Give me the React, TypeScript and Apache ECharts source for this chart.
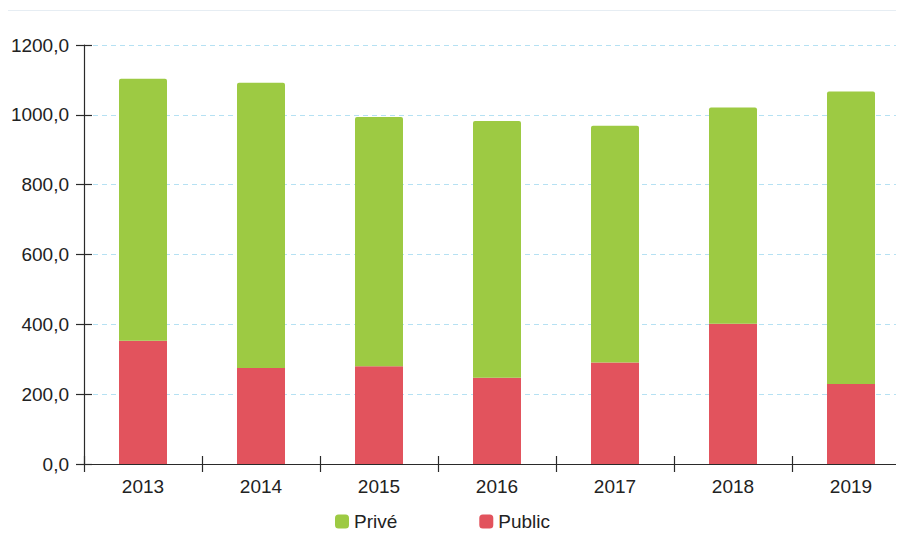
import React, { useEffect, useRef } from "react";
import * as echarts from "echarts";

const years = ["2013", "2014", "2015", "2016", "2017", "2018", "2019"];
const publicValues = [353, 275, 280, 247, 291, 402, 229];
const priveValues = [750, 817, 714, 735, 678, 619, 838];
const seriesNames = ["Privé", "Public"];

const FONT = '"Liberation Sans", Arial, sans-serif';

export default function App() {
  const ref = useRef<HTMLDivElement>(null);
  useEffect(() => {
    if (!ref.current) return;
    const chart = echarts.init(ref.current, undefined, { renderer: "svg" });
    const fmt = (v: number) => v.toFixed(1).replace(".", ",");
    chart.setOption({
      animation: false,
      backgroundColor: "#ffffff",
      textStyle: { fontFamily: FONT },
      grid: { left: 77, top: 34, width: 826, height: 419 },
      legend: {
        data: seriesNames,
        left: 323,
        top: 496,
        itemWidth: 14,
        itemHeight: 14,
        itemGap: 82,
        icon: "roundRect",
        textStyle: { fontSize: 19, color: "#222", fontFamily: FONT },
      },
      xAxis: [
        {
          type: "category",
          data: years,
          position: "bottom",
          axisLine: { onZero: false, lineStyle: { color: "#2a2a2a", width: 1.2 } },
          axisTick: { show: true, length: 8, lineStyle: { color: "#2a2a2a", width: 1.2 } },
          axisLabel: { fontSize: 19, color: "#222", margin: 13, fontFamily: FONT },
        },
        {
          type: "category",
          data: years,
          position: "bottom",
          axisLine: { show: false, onZero: false },
          axisTick: { show: true, inside: true, length: 8, lineStyle: { color: "#2a2a2a", width: 1.2 } },
          axisLabel: { show: false },
        },
      ],
      yAxis: [
        {
          type: "value",
          min: 0,
          max: 1200,
          interval: 200,
          position: "left",
          axisLine: { show: true, lineStyle: { color: "#2a2a2a", width: 1.2 } },
          axisTick: { show: true, length: 8, lineStyle: { color: "#2a2a2a", width: 1.2 } },
          axisLabel: { fontSize: 19, color: "#222", margin: 15, formatter: fmt, fontFamily: FONT },
          splitLine: { show: true, lineStyle: { color: "#b5e1f3", type: [5, 4], width: 1 } },
        },
        {
          type: "value",
          min: 0,
          max: 1200,
          interval: 200,
          position: "left",
          axisLine: { show: false },
          axisTick: { show: true, inside: true, length: 8, lineStyle: { color: "#2a2a2a", width: 1.2 } },
          axisLabel: { show: false },
          splitLine: { show: false },
        },
      ],
      series: [
        {
          name: "Public",
          type: "bar",
          stack: "total",
          barWidth: 48,
          xAxisIndex: 0,
          yAxisIndex: 0,
          itemStyle: { color: "#e2535d" },
          data: publicValues,
        },
        {
          name: "Privé",
          type: "bar",
          stack: "total",
          barWidth: 48,
          xAxisIndex: 0,
          yAxisIndex: 0,
          itemStyle: { color: "#9dca43", borderRadius: [2, 2, 0, 0] },
          data: priveValues,
        },
      ],
    });
    return () => chart.dispose();
  }, []);
  return (
    <div
      style={{
        width: 898,
        height: 534,
        overflow: "hidden",
        marginLeft: -2,
        marginTop: 2,
        borderTop: "1px solid #e6edf3",
        borderLeft: "1px solid #e6edf3",
        background: "#fff",
      }}
    >
      <div ref={ref} style={{ width: 930, height: 533 }} />
    </div>
  );
}
